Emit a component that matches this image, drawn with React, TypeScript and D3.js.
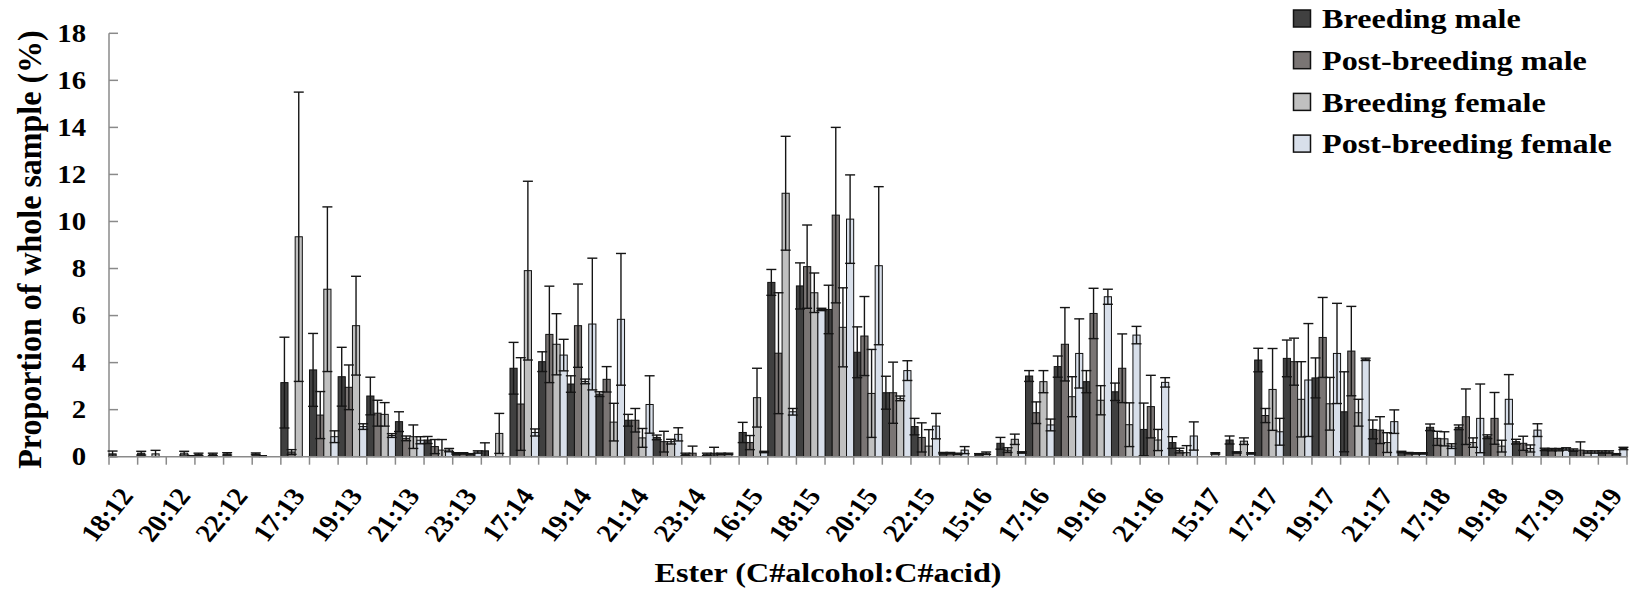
import React from 'react';
import * as d3 from 'd3';

// Ester labels (C# alcohol : C# acid)
const categories = [
  '18:12', '19:12', '20:12', '21:12', '22:12', '16:13',
  '17:13', '18:13', '19:13', '20:13', '21:13', '22:13', '23:13',
  '16:14', '17:14', '18:14', '19:14', '20:14', '21:14', '22:14', '23:14',
  '15:15', '16:15', '17:15', '18:15', '19:15', '20:15', '21:15', '22:15', '23:15',
  '15:16', '16:16', '17:16', '18:16', '19:16', '20:16', '21:16', '22:16',
  '15:17', '16:17', '17:17', '18:17', '19:17', '20:17', '21:17', '22:17',
  '17:18', '18:18', '19:18', '20:18',
  '17:19', '18:19', '19:19',
];

const breedingMale = [
  0.12, 0.15, 0, 0.1, 0.12, 0.12,
  3.15, 3.69, 3.4, 2.58, 1.49, 0.71, 0.14,
  0.25, 3.76, 4.04, 3.09, 2.66, 1.55, 0.82, 0.1,
  0.15, 1.03, 7.41, 7.26, 6.26, 4.44, 2.72, 1.28, 0.15,
  0, 0.57, 3.43, 3.83, 3.19, 2.76, 1.16, 0.6,
  0, 0.71, 4.11, 4.18, 3.35, 1.91, 1.16, 0.2,
  1.25, 1.25, 0.85, 0.64,
  0.31, 0.28, 0.2,
];
const breedingMaleSE = [
  0.12, 0.08, 0, 0.05, 0.05, 0.04,
  1.93, 1.55, 1.25, 0.8, 0.42, 0.15, 0.03,
  0.34, 1.1, 0.42, 0.35, 0.1, 0.25, 0.1, 0.05,
  0.25, 0.43, 0.55, 0.98, 1.03, 1.08, 0.7, 0.35, 0.03,
  0, 0.25, 0.23, 0.45, 0.47, 0.37, 1.12, 0.25,
  0, 0.17, 0.5, 0.78, 0.85, 1.7, 0.4, 0.03,
  0.14, 0.1, 0.08, 0.1,
  0.05, 0.05, 0.05,
];

const postBreedingMale = [
  0, 0, 0, 0, 0, 0.05,
  0.2, 1.77, 2.95, 1.85, 0.78, 0.43, 0.14,
  0, 2.24, 5.2, 5.57, 3.29, 1.55, 0.64, 0.15,
  0.12, 0.6, 4.4, 8.08, 10.27, 5.13, 2.72, 0.82, 0.15,
  0.1, 0.28, 1.87, 4.78, 6.09, 3.76, 2.13, 0.26,
  0, 0.18, 1.75, 4.04, 5.07, 4.49, 1.13, 0.15,
  0.78, 1.7, 1.63, 0.57,
  0.3, 0.28, 0.2,
];
const postBreedingMaleSE = [
  0, 0, 0, 0, 0, 0,
  0.1, 1.0, 0.95, 0.55, 0.1, 0.3, 0.03,
  0, 1.97, 2.05, 1.77, 0.54, 0.5, 0.44, 0.3,
  0.03, 0.3, 2.57, 1.77, 3.73, 1.68, 1.3, 0.62, 0.03,
  0.03, 0.1, 0.46, 1.56, 1.07, 1.46, 1.33, 0.1,
  0, 0.03, 0.3, 1.0, 1.7, 1.9, 0.57, 0.03,
  0.3, 1.18, 1.1, 0.3,
  0.05, 0.35, 0.05,
];

const breedingFemale = [
  0, 0.12, 0.15, 0.1, 0, 0,
  9.35, 7.12, 5.57, 1.8, 0.85, 0.28, 0.1,
  0.99, 7.91, 4.78, 3.2, 1.47, 0.8, 0.64, 0,
  0.12, 2.51, 11.2, 6.97, 5.5, 2.69, 2.48, 0.45, 0.12,
  0.15, 0.74, 3.19, 2.55, 2.4, 1.36, 0.71, 0.17,
  0.14, 0.66, 2.86, 2.44, 2.25, 1.87, 0.6, 0.14,
  0.76, 0.6, 0.45, 0.35,
  0.3, 0.2, 0.1,
];
const breedingFemaleSE = [
  0, 0.15, 0.08, 0.05, 0, 0,
  6.15, 3.5, 2.1, 0.5, 0.5, 0.45, 0.03,
  0.85, 3.8, 1.3, 0.1, 0.8, 0.4, 0.1, 0,
  0.03, 1.25, 2.42, 0.84, 1.68, 1.87, 0.1, 0.7, 0.03,
  0.05, 0.22, 0.47, 0.85, 0.62, 0.93, 0.45, 0.3,
  0.03, 0.14, 1.74, 1.6, 1.12, 0.57, 0.42, 0.03,
  0.3, 0.2, 0.25, 0.15,
  0.05, 0.05, 0.03,
];

const postBreedingFemale = [
  0, 0, 0.05, 0, 0, 0,
  0, 0.85, 1.28, 0.9, 0.7, 0.28, 0.2,
  0, 1.03, 4.32, 5.64, 5.84, 2.22, 0.95, 0.1,
  0, 0.2, 1.91, 6.26, 10.1, 8.12, 3.66, 1.3, 0.28,
  0, 0.18, 1.35, 4.39, 6.8, 5.17, 3.16, 0.88,
  0, 0.14, 1.06, 3.26, 4.39, 4.14, 1.49, 0.14,
  0.45, 1.63, 2.44, 1.13,
  0.33, 0.2, 0.35,
];
const postBreedingFemaleSE = [
  0, 0, 0, 0, 0, 0,
  0, 0.25, 0.12, 0.08, 0.15, 0.07, 0.05,
  0, 0.15, 0.67, 2.8, 2.8, 1.22, 0.28, 0.05,
  0, 0.03, 0.14, 0.05, 1.88, 3.36, 0.42, 0.54, 0.15,
  0, 0.03, 0.25, 1.47, 0.32, 0.37, 0.2, 0.6,
  0, 0.03, 0.57, 2.4, 2.13, 0.05, 0.5, 0.03,
  0.1, 1.46, 1.05, 0.27,
  0.05, 0.05, 0.05,
];

const seriesNames = ['Breeding male', 'Post-breeding male', 'Breeding female', 'Post-breeding female'];
const seriesColors = ['#404040', '#7a7574', '#c0c0c0', '#d8dfea'];
const yTicks = [0, 2, 4, 6, 8, 10, 12, 14, 16, 18];

const FONT = '"Liberation Serif", "Times New Roman", serif';
const W = 1634;
const H = 591;
const LEFT = 109;
const RIGHT = 1627;
const BOTTOM = 456.7;
const TOP = 33.3;
const AXIS = '#8a8a8a';
const SX = 1.15; // horizontal stretch of lettering

export default function App() {
  const x = d3.scaleBand<string>().domain(categories).range([LEFT, RIGHT]).padding(0);
  const inner = d3.scaleBand<string>().domain(seriesNames).range([0, x.bandwidth()]).padding(0);
  const y = d3.scaleLinear().domain([0, 18]).range([BOTTOM, TOP]);

  const series = [
    { name: seriesNames[0], mean: breedingMale, se: breedingMaleSE, color: seriesColors[0] },
    { name: seriesNames[1], mean: postBreedingMale, se: postBreedingMaleSE, color: seriesColors[1] },
    { name: seriesNames[2], mean: breedingFemale, se: breedingFemaleSE, color: seriesColors[2] },
    { name: seriesNames[3], mean: postBreedingFemale, se: postBreedingFemaleSE, color: seriesColors[3] },
  ];

  const bw = inner.bandwidth();
  const capHalf = 5;

  const bars: React.ReactNode[] = [];
  const errs: React.ReactNode[] = [];
  series.forEach((s, si) => {
    categories.forEach((c, ci) => {
      const v = s.mean[ci];
      const bx = (x(c) as number) + (inner(s.name) as number);
      if (v > 0) {
        bars.push(
          <rect key={`b${si}-${ci}`} x={bx} y={y(v)} width={bw} height={BOTTOM - y(v)}
            fill={s.color} stroke="#111" strokeWidth={1} />
        );
      }
      const e = s.se[ci];
      if (v > 0 && e > 0) {
        const cx = bx + bw / 2;
        const hi = y(v + e);
        const loVal = v - e;
        const lo = y(Math.max(0, loVal));
        errs.push(
          <g key={`e${si}-${ci}`} stroke="#151515" strokeWidth={1.4}>
            <line x1={cx} x2={cx} y1={hi} y2={lo} />
            <line x1={cx - capHalf} x2={cx + capHalf} y1={hi} y2={hi} />
            {loVal > 0 && <line x1={cx - capHalf} x2={cx + capHalf} y1={lo} y2={lo} />}
          </g>
        );
      }
    });
  });

  const boundaries = d3.range(categories.length + 1).map((i) => LEFT + i * x.step());

  return (
    <svg width={W} height={H} style={{ position: 'absolute', left: 0, top: 0, background: '#fff' }}
      fontFamily={FONT} fontWeight="bold">
      <rect x={0} y={0} width={W} height={H} fill="#fff" />

      {/* y axis */}
      <line x1={LEFT} x2={LEFT} y1={TOP} y2={BOTTOM} stroke={AXIS} strokeWidth={1.5} />
      {yTicks.map((t) => (
        <g key={`yt${t}`}>
          <line x1={LEFT} x2={LEFT + 9} y1={y(t)} y2={y(t)} stroke={AXIS} strokeWidth={1.5} />
          <text transform={`translate(86,${y(t)}) scale(${SX},1)`} textAnchor="end" dy="0.35em"
            fontSize={25} fill="#000">{t}</text>
        </g>
      ))}

      {bars}
      {errs}

      {/* x axis */}
      <line x1={LEFT} x2={RIGHT} y1={BOTTOM} y2={BOTTOM} stroke={AXIS} strokeWidth={1.5} />
      {boundaries.map((bx, i) => (
        <line key={`xt${i}`} x1={bx} x2={bx} y1={BOTTOM} y2={BOTTOM + 8} stroke={AXIS} strokeWidth={1.5} />
      ))}
      {categories.map((c, i) =>
        i % 2 === 0 ? (
          <text key={`xl${c}`}
            transform={`translate(${(x(c) as number) + x.bandwidth() / 2 + 3},${491}) scale(${SX},1) rotate(-54)`}
            textAnchor="end" dy="0.35em" fontSize={25} fill="#000">{c}</text>
        ) : null
      )}

      {/* axis titles */}
      <text transform={`translate(828,582) scale(${SX},1)`} textAnchor="middle" fontSize={28} fill="#000">
        Ester (C#alcohol:C#acid)
      </text>
      <text transform={`translate(41,249.5) scale(1.08,1) rotate(-90)`} textAnchor="middle" fontSize={32} fill="#000">
        Proportion of whole sample (%)
      </text>

      {/* legend */}
      {series.map((s, i) => (
        <g key={`lg${i}`}>
          <rect x={1293.5} y={10 + i * 41.7} width={17} height={17} fill={s.color} stroke="#111" strokeWidth={1.5} />
          <text transform={`translate(1322,${28.3 + i * 41.7}) scale(1.15,1)`} fontSize={28} fill="#000">{s.name}</text>
        </g>
      ))}
    </svg>
  );
}
